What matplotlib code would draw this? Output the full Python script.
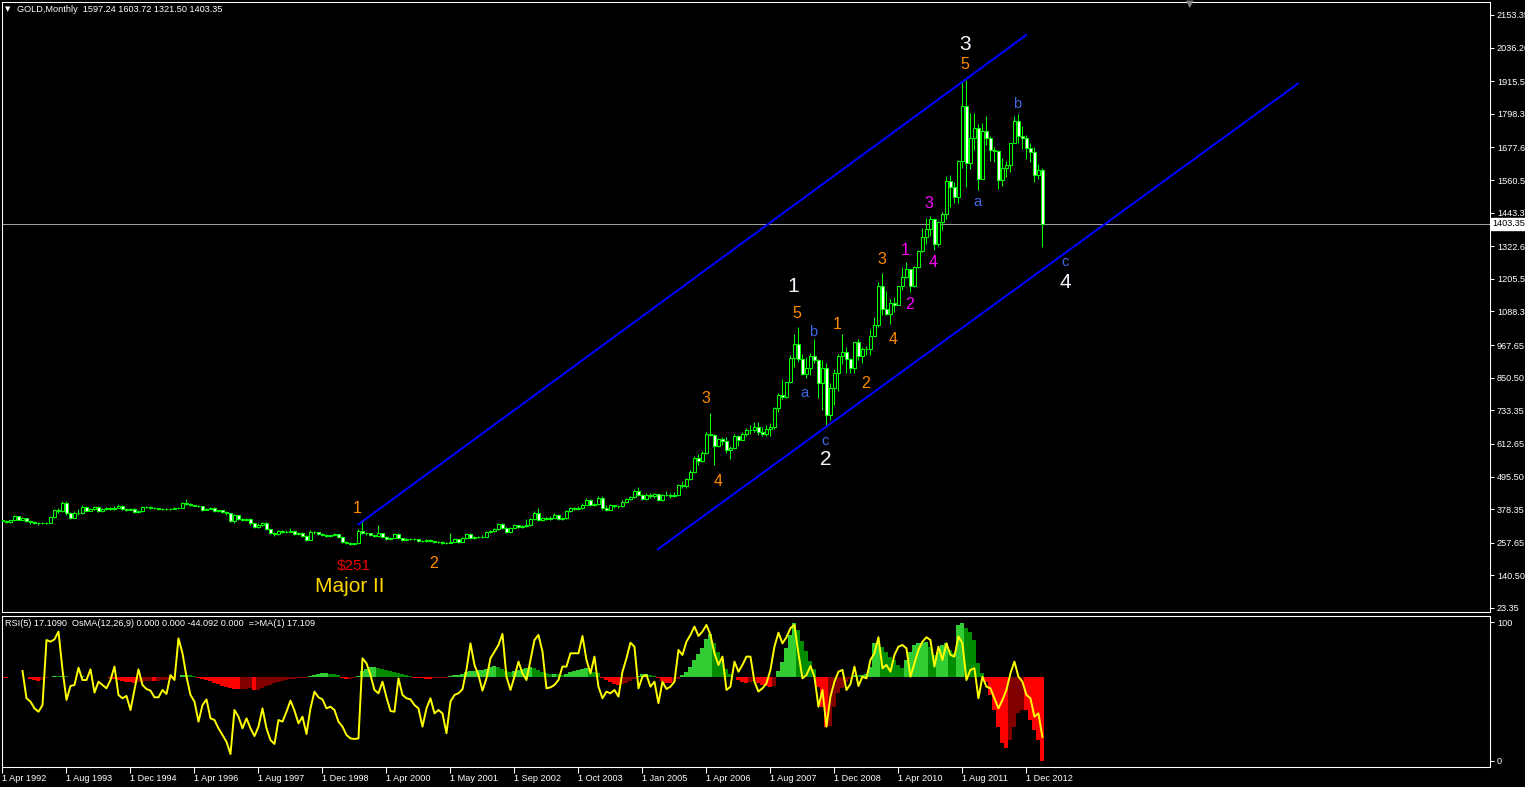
import matplotlib
matplotlib.use("Agg")
import matplotlib.pyplot as plt
import matplotlib.transforms as mtransforms
import numpy as np

plt.rcParams['font.family'] = ['Liberation Sans', 'DejaVu Sans']

# monthly OHLC, one value per bar (Apr 1992 .. Apr 2013)
opens = [
    340, 336, 333, 338, 352, 341, 345, 337, 331, 330, 327, 327,
    330, 349, 375, 372, 401, 365, 347, 366, 364, 387, 373, 378,
    387, 371, 378, 383, 380, 384, 391, 379, 377, 378, 367, 371,
    387, 385, 381, 382, 379, 380, 378, 380, 382, 384, 402, 398,
    392, 391, 388, 376, 380, 384, 372, 374, 369, 363, 337, 357,
    344, 340, 343, 327, 315, 322, 330, 306, 292, 289, 300, 296,
    298, 300, 288, 292, 282, 268, 296, 295, 290, 286, 282, 284,
    288, 278, 262, 256, 253, 255, 301, 293, 291, 285, 282, 291,
    280, 271, 276, 288, 273, 268, 270, 270, 270, 264, 263, 267,
    263, 261, 260, 256, 258, 262, 270, 262, 273, 289, 275, 277,
    278, 280, 295, 301, 306, 324, 310, 295, 312, 320, 314, 317,
    322, 342, 366, 340, 346, 344, 348, 359, 342, 346, 371, 381,
    380, 382, 395, 412, 393, 397, 420, 382, 377, 392, 391, 388,
    405, 415, 421, 445, 429, 414, 429, 424, 432, 410, 429, 430,
    424, 430, 465, 462, 485, 513, 563, 551, 579, 650, 645, 606,
    629, 624, 590, 598, 642, 628, 650, 663, 661, 675, 655, 650,
    667, 672, 743, 789, 783, 834, 923, 971, 916, 865, 885, 928,
    914, 833, 884, 717, 815, 869, 927, 942, 916, 884, 979, 927,
    953, 953, 1001, 1039, 1181, 1096, 1081, 1118, 1113, 1179, 1212, 1242,
    1181, 1247, 1307, 1357, 1386, 1421, 1332, 1409, 1439, 1556, 1536, 1500,
    1628, 1826, 1620, 1713, 1746, 1565, 1738, 1711, 1669, 1664, 1560, 1604,
    1614, 1692, 1773, 1719, 1713, 1675, 1663, 1578, 1597.24,
]
highs = [
    344, 339, 341, 356, 355, 349, 348, 340, 335, 333, 331, 334,
    352, 378, 383, 406, 408, 368, 372, 378, 392, 391, 381, 391,
    390, 381, 387, 386, 388, 396, 394, 381, 382, 381, 374, 391,
    391, 388, 385, 384, 383, 382, 383, 385, 387, 405, 416, 401,
    395, 394, 390, 383, 387, 386, 377, 376, 371, 365, 362, 359,
    347, 348, 345, 329, 327, 334, 334, 308, 297, 305, 303, 302,
    310, 304, 296, 295, 284, 302, 299, 297, 292, 289, 287, 293,
    290, 281, 264, 259, 258, 306, 338, 297, 294, 288, 321, 294,
    283, 280, 292, 291, 275, 273, 274, 273, 272, 267, 270, 270,
    265, 264, 263, 261, 294, 274, 272, 277, 293, 292, 281, 282,
    285, 299, 304, 310, 328, 327, 313, 316, 325, 323, 321, 343,
    346, 370, 382, 350, 349, 353, 363, 362, 350, 375, 387, 386,
    388, 400, 417, 415, 402, 427, 427, 395, 396, 395, 394, 410,
    420, 426, 450, 457, 432, 438, 435, 438, 434, 433, 445, 437,
    440, 470, 481, 490, 520, 568, 577, 586, 655, 723, 650, 634,
    636, 637, 605, 648, 646, 656, 671, 680, 691, 690, 672, 682,
    688, 744, 794, 845, 834, 931, 1006, 1033, 935, 926, 940, 988,
    916, 913, 905, 832, 882, 934, 1007, 962, 920, 980, 990, 960,
    966, 1025, 1070, 1195, 1227, 1162, 1134, 1139, 1181, 1249, 1265, 1244,
    1250, 1308, 1388, 1424, 1431, 1424, 1412, 1447, 1575, 1577, 1552, 1632,
    1911, 1920, 1803, 1803, 1763, 1764, 1790, 1719, 1680, 1667, 1640, 1630,
    1692, 1789, 1796, 1755, 1723, 1694, 1679, 1617, 1603.72,
]
lows = [
    332, 329, 330, 335, 338, 337, 333, 326, 326, 323, 324, 325,
    327, 346, 366, 368, 358, 342, 345, 357, 362, 370, 370, 374,
    368, 368, 376, 377, 377, 381, 376, 373, 375, 364, 364, 369,
    382, 379, 379, 377, 377, 376, 376, 378, 380, 382, 395, 389,
    388, 385, 373, 374, 378, 369, 369, 365, 358, 333, 330, 340,
    335, 336, 322, 311, 312, 318, 302, 288, 282, 284, 292, 293,
    295, 284, 285, 278, 264, 266, 290, 286, 281, 279, 279, 281,
    274, 258, 252, 251, 251, 252, 289, 287, 281, 279, 279, 276,
    268, 268, 273, 270, 265, 265, 267, 266, 261, 260, 260, 260,
    258, 256, 253, 254, 256, 259, 258, 260, 271, 271, 272, 274,
    275, 277, 292, 298, 303, 306, 291, 293, 309, 310, 311, 314,
    319, 340, 337, 337, 340, 341, 345, 339, 340, 344, 368, 376,
    377, 379, 392, 389, 390, 395, 375, 371, 375, 384, 384, 386,
    401, 412, 418, 425, 410, 411, 420, 420, 407, 408, 426, 420,
    421, 427, 455, 456, 482, 510, 537, 548, 577, 640, 537, 602,
    608, 580, 560, 594, 605, 625, 640, 650, 655, 645, 641, 642,
    640, 667, 727, 773, 776, 830, 890, 908, 860, 850, 862, 904,
    776, 736, 681, 700, 751, 802, 900, 866, 867, 866, 915, 905,
    932, 931, 1001, 1034, 1075, 1075, 1045, 1087, 1111, 1166, 1210, 1157,
    1175, 1243, 1302, 1331, 1359, 1308, 1324, 1382, 1421, 1462, 1478, 1478,
    1604, 1535, 1600, 1669, 1523, 1563, 1687, 1628, 1627, 1527, 1540, 1573,
    1588, 1692, 1693, 1672, 1636, 1626, 1555, 1565, 1321.50,
]
closes = [
    336, 333, 338, 352, 341, 345, 337, 331, 330, 327, 327, 330,
    349, 375, 372, 401, 365, 347, 366, 364, 387, 373, 378, 387,
    371, 378, 383, 380, 384, 391, 379, 377, 378, 367, 371, 387,
    385, 381, 382, 379, 380, 378, 380, 382, 384, 402, 398, 392,
    391, 388, 376, 380, 384, 372, 374, 369, 363, 337, 357, 344,
    340, 343, 327, 315, 322, 330, 306, 292, 289, 300, 296, 298,
    300, 288, 292, 282, 268, 296, 295, 290, 286, 282, 284, 288,
    278, 262, 256, 253, 255, 301, 293, 291, 285, 282, 291, 280,
    271, 276, 288, 273, 268, 270, 270, 270, 264, 263, 267, 263,
    261, 260, 256, 258, 262, 270, 262, 273, 289, 275, 277, 278,
    280, 295, 301, 306, 324, 310, 295, 312, 320, 314, 317, 322,
    342, 366, 340, 346, 344, 348, 359, 342, 346, 371, 381, 380,
    382, 395, 412, 393, 397, 420, 382, 377, 392, 391, 388, 405,
    415, 421, 445, 429, 414, 429, 424, 432, 410, 429, 430, 424,
    430, 465, 462, 485, 513, 563, 551, 579, 650, 645, 606, 629,
    624, 590, 598, 642, 628, 650, 663, 661, 675, 655, 650, 667,
    672, 743, 789, 783, 834, 923, 971, 916, 865, 885, 928, 914,
    833, 884, 717, 815, 869, 927, 942, 916, 884, 979, 927, 953,
    953, 1001, 1039, 1181, 1096, 1081, 1118, 1113, 1179, 1212, 1242, 1181,
    1247, 1307, 1357, 1386, 1421, 1332, 1409, 1439, 1556, 1536, 1500, 1628,
    1826, 1620, 1713, 1746, 1565, 1738, 1711, 1669, 1664, 1560, 1604, 1614,
    1692, 1773, 1719, 1713, 1675, 1663, 1578, 1595, 1403.35,
]

# RSI(5), starts at bar 5
rsi_start = 5
rsi = [
    64.8, 45.1, 42.7, 37.8, 35.4, 40.2, 87.2, 86.0, 87.7, 93.3,
    65.6, 43.9, 54.0, 54.7, 67.2, 58.3, 58.3, 66.0, 49.2, 57.1,
    54.7, 52.3, 58.3, 68.0, 47.5, 45.1, 46.8, 36.6, 51.1, 66.0,
    54.7, 51.8, 50.6, 45.8, 45.8, 51.1, 48.2, 61.9, 58.3, 88.4,
    77.6, 60.7, 47.5, 42.7, 28.2, 40.2, 44.3, 30.6, 29.4, 23.4,
    18.6, 13.7, 4.8, 36.6, 31.8, 23.4, 30.6, 23.4, 17.8, 24.6,
    37.8, 23.4, 14.9, 12.1, 29.4, 28.2, 35.4, 43.4, 36.2, 27.0,
    31.8, 19.3, 37.8, 49.9, 45.8, 44.3, 37.8, 39.0, 36.6, 28.2,
    24.6, 18.6, 16.1, 15.7, 16.1, 74.0, 70.4, 61.9, 51.1, 48.7,
    57.1, 45.8, 35.9, 35.4, 59.5, 47.5, 45.1, 44.3, 40.2, 37.8,
    24.6, 37.8, 45.1, 34.2, 36.6, 34.2, 19.8, 42.7, 47.5, 48.7,
    51.6, 65.6, 84.8, 69.2, 61.9, 50.6, 59.5, 74.0, 78.8, 83.6,
    91.6, 60.7, 51.1, 60.7, 71.6, 63.1, 58.3, 72.8, 87.2, 90.9,
    78.8, 52.3, 53.0, 54.7, 58.3, 68.0, 68.0, 77.6, 77.6, 77.6,
    90.1, 72.8, 63.1, 75.2, 53.5, 45.1, 49.9, 48.7, 51.1, 46.3,
    64.3, 74.0, 85.3, 82.4, 52.3, 60.7, 61.9, 53.5, 57.1, 41.5,
    57.1, 51.8, 53.5, 57.1, 80.0, 76.4, 86.0, 90.9, 96.9, 90.1,
    93.3, 98.1, 90.9, 77.6, 69.2, 75.2, 51.1, 53.5, 71.6, 64.3,
    69.2, 75.2, 75.2, 57.1, 50.0,
    52.3, 55.9, 65.6, 82.4, 92.5, 84.8, 89.2, 95.7, 98.1, 77.6,
    59.5, 61.9, 68.4, 60.7, 39.0, 51.1, 24.6, 46.3, 57.1, 64.3,
    65.6, 51.1, 55.4, 68.0, 54.0, 60.7, 59.5, 72.8, 77.6, 89.2,
    66.8, 69.2, 64.3, 76.4, 82.4, 83.6, 81.2, 60.7, 70.4, 80.0,
    86.0, 89.2, 87.2, 68.0, 82.4, 72.8, 84.8, 76.4, 75.2, 89.7,
    84.8, 58.3, 65.6, 66.8, 45.1, 60.7, 53.5, 52.3, 45.1, 37.8,
    43.9, 51.1, 63.1, 71.6, 60.7, 57.1, 47.5, 45.1, 31.8, 34.2,
    17.11,
]

# OsMA(12,26,9) histogram, one value per bar
osma = [
    -0.3, -0.3, -0.2, -0.1, 0.0, 0.1, -0.2, -1.2, -1.8, -2.0, -1.5, -0.3,
    0.2, 0.5, 0.4, 0.6, 0.4, 0.1, 0.2, 0.1, 0.3, 0.2, 0.1, 0.2,
    0.1, -0.1, -0.2, -0.5, -1.0, -1.5, -2.0, -2.4, -2.8, -3.0, -2.6, -2.4,
    -2.2, -2.0, -2.1, -2.0, -1.8, -1.6, -1.0, -0.4, 0.2, 0.8, 1.0, 0.8,
    0.4, -0.4, -0.9, -1.5, -2.2, -3.0, -3.8, -4.5, -5.1, -5.6, -6.1, -6.5,
    -6.3, -6.1, -6.0, -6.8, -6.6, -5.8, -5.0, -4.2, -3.4, -2.7, -2.1, -1.6,
    -1.2, -0.9, -0.7, -0.5, -0.3, 0.3, 0.9, 1.5, 1.9, 2.1, 1.8, 1.4,
    0.9, -0.6, -1.3, -0.9, -0.3, 0.4, 3.0, 4.4, 5.0, 5.1, 4.9, 4.4,
    3.8, 3.2, 2.6, 2.0, 1.4, 0.9, 0.4, -0.4, -0.6, -0.8, -0.9, -0.9,
    -0.8, -0.7, -0.5, -0.3, 0.3, 0.8, 1.2, 1.8, 2.6, 3.0, 3.3, 3.6,
    3.8, 4.4, 5.2, 5.6, 5.3, 4.2, 3.2, 2.7, 2.9, 3.6, 4.0, 4.5,
    5.0, 4.6, 3.8, 2.8, 2.0, 1.6, 1.8, 1.4, 1.0, 1.8, 2.6, 3.2,
    3.8, 4.3, 4.6, 3.6, 2.4, 2.0, -0.5, -1.5, -2.6, -3.5, -4.2, -3.8,
    -3.0, -2.0, -0.9, 0.5, 1.4, 1.8, 1.2, 0.5, -0.8, -2.0, -3.0, -3.4,
    -2.4, -1.0, 0.8, 2.5, 5.0, 9.0, 12.0, 15.5, 20.0, 22.5, 18.0, 13.0,
    8.5, 4.0, 1.5, 0.2, -1.5, -2.5, -3.0, -2.8, -2.2, -3.0, -4.0, -5.0,
    -5.4, -4.5, 3.4, 8.0, 15.0, 22.0, 28.3, 24.8, 18.8, 13.6, 8.3, 4.0,
    -5.1, -15.6, -26.2, -26.0, -15.6, -8.6, -6.0, -2.5, -1.0, 1.0, 0.9, 1.2,
    1.8, 5.4, 17.7, 18.6, 16.0, 13.4, 10.7, 9.0, 6.3, 4.6, 9.0, 13.4,
    16.9, 17.7, 17.7, 18.6, 16.0, 11.6, 13.4, 16.9, 17.7, 14.2, 12.5, 27.4,
    28.3, 25.6, 23.9, 19.5, 7.2, 1.9, -2.5, -9.5, -17.4, -26.2, -35.0, -37.6,
    -33.2, -26.2, -19.1, -17.4, -17.6, -22.7, -27.9, -33.2, -44.092,
]

price_ticks = [2153.35, 2036.20, 1915.50, 1798.35, 1677.65, 1560.50, 1443.35,
               1322.65, 1205.50, 1088.35, 967.65, 850.50, 733.35, 612.65,
               495.50, 378.35, 257.65, 140.50, 23.35]
date_labels = ["1 Apr 1992", "1 Aug 1993", "1 Dec 1994", "1 Apr 1996",
               "1 Aug 1997", "1 Dec 1998", "1 Apr 2000", "1 May 2001",
               "1 Sep 2002", "1 Oct 2003", "1 Jan 2005", "1 Apr 2006",
               "1 Aug 2007", "1 Dec 2008", "1 Apr 2010", "1 Aug 2011",
               "1 Dec 2012"]
date_every = 16
last_price = 1403.35

# channel trend lines (bar, price)
upper_channel = ([89.0, 255.9], [324, 2081])
lower_channel = ([163.9, 323.9], [235, 1907])

# wave labels: text, bar, price, kind
WHITE, ORANGE, BLUE, MAGENTA = '#f4f6ff', '#ff8c00', '#4169e1', '#ff00ff'
wave_labels = [
    ("3", 240.6, 2049, WHITE, 15), ("5", 240.6, 1974, ORANGE, 11.5),
    ("b", 253.7, 1834, BLUE, 10.5), ("a", 243.7, 1482, BLUE, 10.5),
    ("3", 231.7, 1478, MAGENTA, 11.5), ("1", 225.8, 1306, MAGENTA, 11.5),
    ("4", 232.6, 1263, MAGENTA, 11.5), ("2", 226.7, 1112, MAGENTA, 11.5),
    ("3", 219.8, 1276, ORANGE, 11.5), ("4", 222.7, 986, ORANGE, 11.5),
    ("2", 215.8, 830, ORANGE, 11.5), ("1", 208.8, 1042, ORANGE, 11.5),
    ("1", 197.7, 1177, WHITE, 15), ("5", 198.7, 1082, ORANGE, 11.5),
    ("b", 202.7, 1013, BLUE, 10.5), ("a", 200.6, 794, BLUE, 10.5),
    ("c", 205.6, 623, BLUE, 10.5), ("2", 205.8, 555, WHITE, 15),
    ("3", 175.8, 776, ORANGE, 11.5), ("4", 178.8, 479, ORANGE, 11.5),
    ("1", 88.7, 381, ORANGE, 11.5), ("2", 107.7, 184, ORANGE, 11.5),
    ("$251", 87.9, 174, '#ee0000', 11), ("Major II", 86.9, 100, '#ffd700', 15),
    ("c", 265.6, 1265, BLUE, 10.5), ("4", 265.7, 1192, WHITE, 15),
]

W, H = 1525, 787
n = len(closes)
bars = np.arange(n)
o = np.array(opens, float)
h = np.array(highs, float)
l = np.array(lows, float)
c = np.array(closes, float)
xlim = (-0.2, 371.9)
UI = 6.6

fig = plt.figure(figsize=(W / 100, H / 100), dpi=100, facecolor='black')
ax = fig.add_axes([1.7 / W, 1 - 612 / H, 1488.3 / W, 610 / H], facecolor='black')
hist_ax = fig.add_axes([1.7 / W, 1 - 767 / H, 1488.3 / W, 151 / H], facecolor='black')

# ---- price panel ----
ax.vlines(bars, l, h, color='#00ff00', linewidth=0.75, zorder=2)
up = c >= o
ax.bar(bars[up], (c - o)[up], bottom=o[up], width=0.55, facecolor='black',
       edgecolor='#00ff00', linewidth=0.75, zorder=3)
ax.bar(bars[~up], (o - c)[~up], bottom=c[~up], width=0.55, facecolor='white',
       edgecolor='#00ff00', linewidth=0.75, zorder=3)

ax.axhline(last_price, color='#a0a0a0', linewidth=0.75, zorder=1)
ax.plot(*upper_channel, color='#0000ff', linewidth=1.5, zorder=4)
ax.plot(*lower_channel, color='#0000ff', linewidth=1.5, zorder=4)

for txt, bx, py, col, size in wave_labels:
    ax.text(bx, py, txt, color=col, fontsize=size, ha='center', va='center', zorder=5)

ax.set_xlim(*xlim)
ax.set_ylim(8.95, 2200.0)
ax.set_xticks([])
ax.yaxis.tick_right()
ax.set_yticks(price_ticks)
ax.set_yticklabels([f"{v:.2f}" for v in price_ticks])
ax.tick_params(axis='y', colors='white', labelcolor='white', labelsize=UI,
               length=3, width=0.75, pad=2)
for sp in ax.spines.values():
    sp.set_color('white')
    sp.set_linewidth(0.75)

trans = mtransforms.blended_transform_factory(ax.transAxes, ax.transData)
ax.text(1.0015, last_price, f"{last_price:.2f}", transform=trans, color='black',
        fontsize=UI, ha='left', va='center', clip_on=False, zorder=6,
        bbox=dict(facecolor='white', edgecolor='white', pad=1.0))

fig.text(8 / W, 1 - 9 / H, '\u25bc', color='white', fontsize=5, ha='center',
         va='center', family='DejaVu Sans')
fig.text(17 / W, 1 - 9.5 / H, 'GOLD,Monthly  1597.24 1603.72 1321.50 1403.35',
         color='white', fontsize=UI, ha='left', va='center')
fig.text(1190 / W, 1 - 4 / H, '\u25bc', color='#808080', fontsize=7, ha='center',
         va='center', family='DejaVu Sans')

# ---- RSI / OsMA panel ----
osma_arr = np.array(osma, float)
prev = np.concatenate([[0.0], osma_arr[:-1]])
hist_colors = np.where(osma_arr >= 0,
                       np.where(osma_arr >= prev, '#32cd32', '#008c00'),
                       np.where(osma_arr <= prev, '#ff0000', '#800000'))
hist_ax.bar(bars, osma_arr, width=1.0, color=hist_colors, linewidth=0, zorder=2)
hist_ax.set_ylim(-47.4, 32.1)
hist_ax.set_xlim(*xlim)
hist_ax.set_yticks([])
hist_ax.set_xticks(np.arange(len(date_labels)) * date_every)
hist_ax.set_xticklabels(date_labels, ha='left')
hist_ax.tick_params(axis='x', colors='white', labelcolor='white', labelsize=UI,
                    length=4, width=0.75, pad=1)
for sp in hist_ax.spines.values():
    sp.set_color('white')
    sp.set_linewidth(0.75)

rsi_ax = hist_ax.twinx()
rsi_bars = np.arange(rsi_start, rsi_start + len(rsi))
rsi_ax.plot(rsi_bars, rsi, color='#ffff00', linewidth=1.4, zorder=3)
rsi_ax.set_ylim(-4.55, 104.55)
rsi_ax.set_xlim(*xlim)
rsi_ax.set_yticks([0, 100])
rsi_ax.set_yticklabels(['0', '100'])
rsi_ax.tick_params(axis='y', colors='white', labelcolor='white', labelsize=UI,
                   length=3, width=0.75, pad=2)
for sp in rsi_ax.spines.values():
    sp.set_color('white')
    sp.set_linewidth(0.75)

fig.text(5 / W, 1 - 624 / H,
         'RSI(5) 17.1090  OsMA(12,26,9) 0.000 0.000 -44.092 0.000  =>MA(1) 17.109',
         color='white', fontsize=UI, ha='left', va='center')

fig.savefig('out.png', dpi=100, facecolor='black')
